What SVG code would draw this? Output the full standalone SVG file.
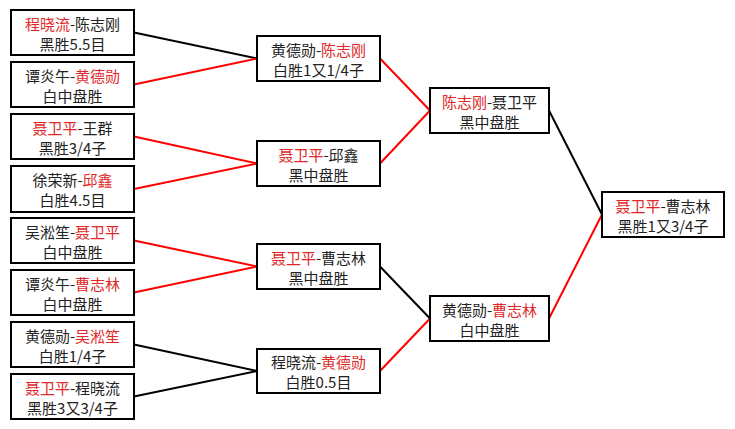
<svg xmlns="http://www.w3.org/2000/svg" width="735" height="429" viewBox="0 0 735 429">
<style>
.box{fill:#fff;stroke:#000;stroke-width:2}
text{font-family:"Noto Sans CJK SC","Noto Sans",sans-serif;font-size:15px;fill:#222;text-anchor:middle}
.r{fill:#e02828}
.cb{stroke:#000;stroke-width:2;fill:none}
.cr{stroke:#f00;stroke-width:2;fill:none}
</style>
<rect width="735" height="429" fill="#fff"/>
<g id="connectors">
<line class="cb" x1="134" y1="32.5" x2="257" y2="58.5"/>
<line class="cr" x1="134" y1="84.5" x2="257" y2="58.5"/>
<line class="cr" x1="134" y1="136.5" x2="257" y2="163.5"/>
<line class="cr" x1="134" y1="189" x2="257" y2="163.5"/>
<line class="cr" x1="134" y1="240.5" x2="257" y2="266.5"/>
<line class="cr" x1="134" y1="292.5" x2="257" y2="266.5"/>
<line class="cb" x1="134" y1="344.5" x2="257" y2="371"/>
<line class="cb" x1="134" y1="396.5" x2="257" y2="371"/>
<line class="cr" x1="380" y1="58.5" x2="430" y2="110.5"/>
<line class="cr" x1="380" y1="163.5" x2="430" y2="110.5"/>
<line class="cb" x1="380" y1="266.5" x2="430" y2="318.5"/>
<line class="cr" x1="380" y1="371" x2="430" y2="318.5"/>
<line class="cb" x1="549" y1="110.5" x2="602" y2="214.5"/>
<line class="cr" x1="549" y1="318.5" x2="602" y2="214.5"/>
</g>
<g id="n1"><rect class="box" x="11" y="10" width="123" height="45"/><text x="72.5" y="30"><tspan class="r">程晓流</tspan>-陈志刚</text><text x="72.5" y="50">黑胜5.5目</text></g>
<g id="n2"><rect class="box" x="11" y="62" width="123" height="45"/><text x="72.5" y="82">谭炎午-<tspan class="r">黄德勋</tspan></text><text x="72.5" y="102">白中盘胜</text></g>
<g id="n3"><rect class="box" x="11" y="114" width="123" height="45"/><text x="72.5" y="134"><tspan class="r">聂卫平</tspan>-王群</text><text x="72.5" y="154">黑胜3/4子</text></g>
<g id="n4"><rect class="box" x="11" y="166" width="123" height="46"/><text x="72.5" y="186">徐荣新-<tspan class="r">邱鑫</tspan></text><text x="72.5" y="206">白胜4.5目</text></g>
<g id="n5"><rect class="box" x="11" y="218" width="123" height="45"/><text x="72.5" y="238">吴淞笙-<tspan class="r">聂卫平</tspan></text><text x="72.5" y="258">白中盘胜</text></g>
<g id="n6"><rect class="box" x="11" y="270" width="123" height="45"/><text x="72.5" y="290">谭炎午-<tspan class="r">曹志林</tspan></text><text x="72.5" y="310">白中盘胜</text></g>
<g id="n7"><rect class="box" x="11" y="322" width="123" height="45"/><text x="72.5" y="342">黄德勋-<tspan class="r">吴淞笙</tspan></text><text x="72.5" y="362">白胜1/4子</text></g>
<g id="n8"><rect class="box" x="11" y="374" width="123" height="45"/><text x="72.5" y="394"><tspan class="r">聂卫平</tspan>-程晓流</text><text x="72.5" y="414">黑胜3又3/4子</text></g>
<g id="nA"><rect class="box" x="257" y="36" width="123" height="45"/><text x="318.5" y="56">黄德勋-<tspan class="r">陈志刚</tspan></text><text x="318.5" y="76">白胜1又1/4子</text></g>
<g id="nB"><rect class="box" x="257" y="141" width="123" height="45"/><text x="318.5" y="161"><tspan class="r">聂卫平</tspan>-邱鑫</text><text x="318.5" y="181">黑中盘胜</text></g>
<g id="nC"><rect class="box" x="257" y="244" width="123" height="45"/><text x="318.5" y="264"><tspan class="r">聂卫平</tspan>-曹志林</text><text x="318.5" y="284">黑中盘胜</text></g>
<g id="nD"><rect class="box" x="257" y="349" width="123" height="44"/><text x="318.5" y="368">程晓流-<tspan class="r">黄德勋</tspan></text><text x="318.5" y="388">白胜0.5目</text></g>
<g id="nE"><rect class="box" x="430" y="88" width="119" height="45"/><text x="489.5" y="108"><tspan class="r">陈志刚</tspan>-聂卫平</text><text x="489.5" y="128">黑中盘胜</text></g>
<g id="nF"><rect class="box" x="430" y="296" width="119" height="45"/><text x="489.5" y="316">黄德勋-<tspan class="r">曹志林</tspan></text><text x="489.5" y="336">白中盘胜</text></g>
<g id="nG"><rect class="box" x="602" y="192" width="122" height="45"/><text x="663" y="212"><tspan class="r">聂卫平</tspan>-曹志林</text><text x="663" y="232">黑胜1又3/4子</text></g>
</svg>
